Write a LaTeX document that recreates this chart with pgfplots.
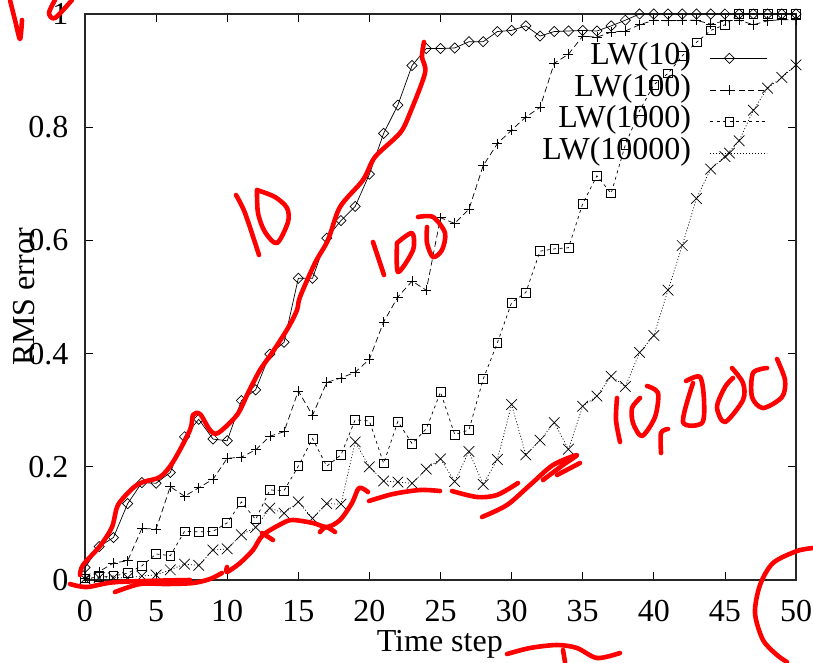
\documentclass[border=0pt]{standalone}
\usepackage{fontspec}
\setmainfont{Liberation Serif}
\usepackage{pgfplots}
\pgfplotsset{compat=1.18}
\newcommand{\bigfont}{\fontsize{32}{33}\selectfont}
\pgfplotsset{
  hand/.style={red,line width=4.6pt,line cap=round,line join=round,smooth,tension=0.5,mark=none,forget plot},
}
\begin{document}
\begin{tikzpicture}[x=1pt,y=1pt]
\useasboundingbox (0,0) rectangle (813,662);
\begin{axis}[
  name=main, at={(85pt,82pt)}, anchor=south west, scale only axis,
  width=711pt, height=566pt,
  xmin=0, xmax=50, ymin=0, ymax=1,
  xtick={0,5,...,50}, ytick={0,0.2,0.4,0.6,0.8,1},
  yticklabels={0,0.2,0.4,0.6,0.8,1},
  tick align=inside, major tick length=8pt,
  tick style={black,line width=0.8pt},
  axis line style={line width=1.3pt,black!85},
  /pgf/number format/assume math mode=true,
  tick label style={font=\bigfont},
  xticklabel style={yshift=-17pt},
  yticklabel style={xshift=-13pt},
  xlabel={Time step}, ylabel={RMS error},
  label style={font=\bigfont},
  xlabel style={at={(axis description cs:0.499,-0.113)},anchor=center},
  ylabel style={at={(axis description cs:-0.085,0.5)},anchor=center},
  legend cell align=right, legend plot pos=right,
  legend style={at={(0.9606,0.95)},anchor=north east,draw=none,fill=none,inner sep=0pt,
    row sep=0pt,font=\bigfont,nodes={inner sep=0pt,text height=22pt,text depth=9.6pt},
    column sep=19pt},
  legend image code/.code={\draw[mark repeat=2,mark phase=2,#1] plot coordinates {(0pt,0pt)(19pt,0pt)(57pt,0pt)};},
  every axis plot/.append style={black,line width=0.7pt},
]
\addplot[mark=square,mark size=3.6pt,mark options={solid,rotate=45,line width=0.7pt}] table {
0 0.022
1 0.059
2 0.075
3 0.135
4 0.172
5 0.171
6 0.19
7 0.253
8 0.284
9 0.249
10 0.246
11 0.317
12 0.336
13 0.399
14 0.42
15 0.533
16 0.533
17 0.604
18 0.635
19 0.66
20 0.717
21 0.789
22 0.839
23 0.909
24 0.939
25 0.939
26 0.94
27 0.951
28 0.951
29 0.969
30 0.971
31 0.979
32 0.961
33 0.969
34 0.97
35 0.971
36 0.97
37 0.979
38 0.989
39 1
40 1
41 1
42 1
43 1
44 1
45 1
46 1
47 1
48 1
49 1
50 1
};
\addlegendentry{LW(10)}
\addplot[dash pattern=on 6pt off 3.5pt,mark=+,mark size=5pt,mark options={solid,line width=0.7pt}] table {
0 0.003
1 0.015
2 0.03
3 0.034
4 0.091
5 0.09
6 0.165
7 0.148
8 0.163
9 0.178
10 0.215
11 0.217
12 0.23
13 0.254
14 0.262
15 0.334
16 0.291
17 0.349
18 0.357
19 0.367
20 0.39
21 0.456
22 0.5
23 0.528
24 0.512
25 0.64
26 0.63
27 0.655
28 0.732
29 0.771
30 0.795
31 0.818
32 0.835
33 0.913
34 0.929
35 0.961
36 0.959
37 0.968
38 0.97
39 0.981
40 0.989
41 0.988
42 0.989
43 0.989
44 0.982
45 0.988
46 0.989
47 0.981
48 0.988
49 0.99
50 0.99
};
\addlegendentry{LW(100)}
\addplot[dash pattern=on 3pt off 3.5pt,mark=square,mark size=4.4pt,mark options={solid,line width=0.7pt}] table {
0 0.003
1 0.005
2 0.007
3 0.012
4 0.025
5 0.046
6 0.043
7 0.086
8 0.085
9 0.086
10 0.101
11 0.138
12 0.107
13 0.159
14 0.158
15 0.201
16 0.25
17 0.201
18 0.221
19 0.283
20 0.281
21 0.206
22 0.28
23 0.241
24 0.267
25 0.332
26 0.257
27 0.265
28 0.355
29 0.419
30 0.49
31 0.508
32 0.581
33 0.585
34 0.587
35 0.665
36 0.714
37 0.683
38 0.769
39 0.829
40 0.875
41 0.895
42 0.926
43 0.95
44 0.971
45 0.981
46 1
47 1
48 1
49 1
50 1
};
\addlegendentry{LW(1000)}
\addplot[dash pattern=on 1pt off 2pt,mark=x,mark size=7.5pt,mark options={solid,line width=0.7pt}] table {
0 0.002
1 0.004
2 0.004
3 0.004
4 0.007
5 0.009
6 0.018
7 0.028
8 0.026
9 0.053
10 0.055
11 0.08
12 0.093
13 0.127
14 0.118
15 0.138
16 0.109
17 0.135
18 0.134
19 0.244
20 0.2
21 0.175
22 0.173
23 0.171
24 0.196
25 0.214
26 0.174
27 0.227
28 0.169
29 0.213
30 0.31
31 0.221
32 0.247
33 0.278
34 0.231
35 0.307
36 0.325
37 0.36
38 0.342
39 0.402
40 0.432
41 0.512
42 0.591
43 0.674
44 0.726
45 0.748
46 0.776
47 0.83
48 0.869
49 0.888
50 0.91
};
\addlegendentry{LW(10000)}
\end{axis}
\begin{axis}[
  at={(85pt,82pt)}, anchor=south west, scale only axis,
  width=711pt, height=566pt,
  xmin=85, xmax=796, ymin=14, ymax=580, y dir=reverse,
  hide axis, clip=false,
]
% main curve over LW(10)
\addplot[hand] coordinates {(80,575)(83,565)(100,546)(112,527)(118,505)(133,488)(143,482)(160,477)(173,462)(190,430)(193,415)(200,414)(210,430)(218,433)(237,415)(248,393)(260,370)(272,353)(288,328)(297,310)(300,297)(315,263)(328,240)(340,207)(363,180)(375,157)(400,133)(410,113)(425,73)(422,57)(424,42)};
% bottom curve
\addplot[hand] coordinates {(70,584)(87,587)(117,582)(190,580)};
\addplot[hand] coordinates {(115,592)(140,584)(167,584)(193,583)(210,579)(222,573)};
\addplot[hand] coordinates {(227,567)(227,572)(240,563)(253,550)(263,535)(283,523)(293,520)(313,523)(327,527)(340,520)(352,503)(359,488)(368,492)};
\addplot[hand] coordinates {(262,533)(273,540)};
\addplot[hand] coordinates {(335,532)(326,527)(320,532)};
\addplot[hand] coordinates {(369,501)(393,494)(420,490)(440,491)};
\addplot[hand] coordinates {(452,491)(477,497)(497,495)(518,483)};
\addplot[hand] coordinates {(482,517)(507,505)(530,485)(553,465)(577,455)(563,465)(543,480)};
\addplot[hand] coordinates {(557,475)(580,463)};
% 10
\addplot[hand] coordinates {(236,195)(245,213)(259,255)};
\addplot[hand] coordinates {(257,190)(258,213)(265,232)(277,243)(288,222)(287,208)(275,197)(257,190)};
% 100
\addplot[hand] coordinates {(373,242)(384,275)};
\addplot[hand] coordinates {(397,243)(398,272)(413,250)(412,233)(397,243)};
\addplot[hand] coordinates {(418,217)(433,217)(445,233)(442,250)(433,257)(427,243)(427,227)};
% 10,000
\addplot[hand] coordinates {(617,398)(616,420)(620,442)};
\addplot[hand] coordinates {(640,398)(632,408)(633,423)(642,436)(655,417)(658,393)(647,386)};
\addplot[hand] coordinates {(668,429)(661,433)(661,453)};
\addplot[hand] coordinates {(693,383)(683,422)(702,423)(704,400)(700,377)(686,381)};
\addplot[hand] coordinates {(732,368)(743,383)(743,400)(725,422)(717,407)(725,387)(733,378)};
\addplot[hand] coordinates {(767,368)(753,373)(752,397)(763,408)(782,397)(785,380)(777,359)};
% top left
\addplot[hand] coordinates {(10,0)(15,20)(20,39)(22,20)};
\addplot[hand] coordinates {(55,0)(49,13)(55,18)(72,0)};
% bottom right circle
\addplot[hand] coordinates {(813,548)(797,551)(773,563)(760,585)(755,613)(763,640)(777,655)(787,662)};
% under Time step
\addplot[hand] coordinates {(507,654)(530,648)(557,645)(577,648)(597,658)(620,653)};
\addplot[hand] coordinates {(563,650)(565,662)};
\end{axis}
\end{tikzpicture}
\end{document}
